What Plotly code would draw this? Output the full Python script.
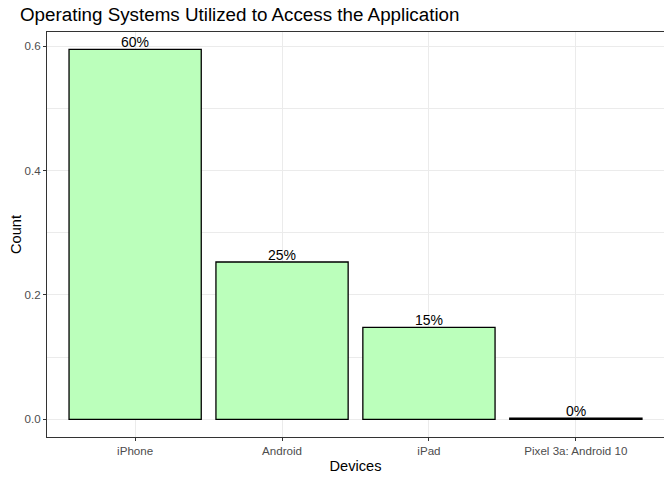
import plotly.graph_objects as go

devices = ["iPhone", "Android", "iPad", "Pixel 3a: Android 10"]
shares = [0.595, 0.253, 0.148, 0.002]
labels = ["60%", "25%", "15%", "0%"]

font_family = "Liberation Sans, Arial, sans-serif"

fig = go.Figure()
fig.add_trace(go.Bar(
    x=devices, y=shares, width=0.9,
    marker=dict(color="#BBFFBB", line=dict(color="black", width=1.3)),
    cliponaxis=False,
))

for d, s, lab in zip(devices, shares, labels):
    fig.add_annotation(x=d, y=s, text=lab, showarrow=False, yanchor="bottom",
                       yshift=-3, font=dict(family=font_family, size=14, color="black"))

grid = "#EBEBEB"
# page body has an 8px margin, so the figure is offset by 8px; margins compensate
fig.update_layout(
    width=672, height=480,
    margin=dict(l=39, r=16, t=24, b=51, autoexpand=False),
    paper_bgcolor="white", plot_bgcolor="white",
    font=dict(family=font_family, color="black"),
    title=dict(text="Operating Systems Utilized to Access the Application",
               x=12/672, xanchor="left", y=1, yanchor="top", pad=dict(t=0, b=0),
               font=dict(size=18.8, color="black")),
    showlegend=False,
    xaxis=dict(
        title=dict(text="Devices", font=dict(size=14.6, color="black"), standoff=4),
        range=[-0.6, 3.6], showgrid=True, gridcolor=grid, gridwidth=1,
        ticks="outside", ticklen=3, tickcolor="#333333",
        tickfont=dict(size=11.6, color="#4D4D4D"), automargin=False,
        showline=True, linecolor="#333333", linewidth=1, mirror=True, zeroline=False,
    ),
    yaxis=dict(
        title=dict(text="Count", font=dict(size=14.6, color="black"), standoff=4),
        range=[-0.0285, 0.623], tickvals=[0, 0.2, 0.4, 0.6],
        ticktext=["0.0", "0.2", "0.4", "0.6"],
        showgrid=True, gridcolor=grid, gridwidth=1,
        minor=dict(tickvals=[0.1, 0.3, 0.5], showgrid=True, gridcolor=grid, gridwidth=0.5, ticklen=0),
        ticks="outside", ticklen=3, tickcolor="#333333",
        tickfont=dict(size=11.6, color="#4D4D4D"), automargin=False,
        showline=True, linecolor="#333333", linewidth=1, mirror=True, zeroline=False,
    ),
)

fig.write_html("out.html")
